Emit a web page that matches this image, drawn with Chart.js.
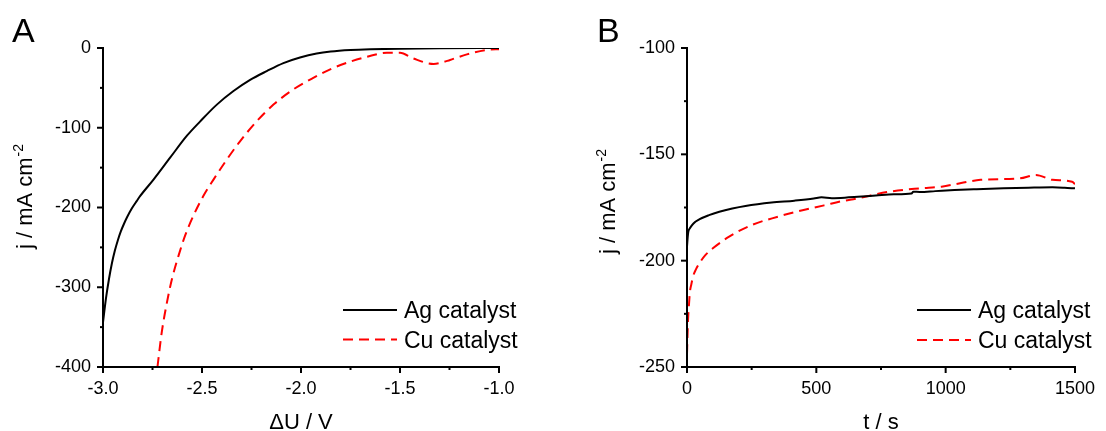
<!DOCTYPE html>
<html>
<head>
<meta charset="utf-8">
<script src="https://cdn.jsdelivr.net/npm/chart.js@4.4.1/dist/chart.umd.min.js"></script>
<style>
  html, body { margin: 0; padding: 0; background: #fff; }
  #wrap { position: relative; width: 1106px; height: 431px; }
  #wrap canvas { position: absolute; top: 0; }
</style>
</head>
<body>
<div id="wrap">
  <canvas id="chartA" width="553" height="431" style="left:0"></canvas>
  <canvas id="chartB" width="553" height="431" style="left:553px"></canvas>
</div>
<script>
// ---------------- data ----------------
var seriesNames = ["Ag catalyst", "Cu catalyst"];

// panel A : j vs dU
var agVoltA = [-3.0, -2.985, -2.97, -2.955, -2.94, -2.925, -2.91, -2.895, -2.878, -2.854, -2.83, -2.812, -2.745, -2.661, -2.576, -2.509, -2.425, -2.341, -2.257, -2.173, -2.089, -2.005, -1.921, -1.85, -1.75, -1.65, -1.5, -1.3, -1.0];
var agCurA  = [-344, -314, -290, -270, -254, -241, -230, -221, -212, -201, -192, -185.5, -165, -137.5, -110, -92, -71, -54, -40, -29, -19, -12, -7, -4.5, -2.6, -1.6, -0.8, -0.3, 0];
var cuVoltA = [-2.725, -2.703, -2.677, -2.652, -2.618, -2.585, -2.543, -2.492, -2.442, -2.375, -2.308, -2.224, -2.139, -2.039, -1.938, -1.837, -1.75, -1.667, -1.566, -1.5, -1.434, -1.33, -1.3, -1.247, -1.162, -1.05, -1.0];
var cuCurA  = [-400, -356, -319, -290, -260, -235, -210, -185, -165, -140, -117, -92, -71, -52, -37.5, -25, -17, -11, -6, -6, -13, -20, -19, -15, -8, -2, -1.5];

// panel B : j vs t
var agTimeB = [0, 2, 5, 11, 25, 49, 85, 125, 175, 226, 327, 415, 490, 520, 560, 610, 660, 730, 800, 868, 875, 900, 960, 1034, 1120, 1224, 1320, 1413, 1460, 1500];
var agCurB  = [-193.5, -190, -186.5, -184.8, -182.5, -180.5, -178.6, -177, -175.5, -174.3, -172.7, -171.8, -170.8, -170.2, -170.6, -170.4, -170.0, -169.4, -168.8, -168.4, -167.6, -167.7, -167.3, -166.8, -166.4, -166.0, -165.7, -165.5, -165.7, -166];
var cuTimeB = [0, 2, 4, 8, 11, 17, 23, 35, 49, 70, 100, 163, 251, 352, 422, 530, 600, 655, 781, 900, 984, 1060, 1135, 1287, 1349, 1413, 1489, 1500];
var cuCurB  = [-244, -235, -228, -220, -215, -211, -207.6, -204, -201, -197.5, -194.2, -188.7, -183.2, -179.3, -177, -174, -172, -170.8, -167.6, -166, -165.2, -163.5, -162, -161.3, -159.7, -162, -162.9, -164];

// ticks
var xTicksA = [-3.0, -2.5, -2.0, -1.5, -1.0];
var xMinorA = [-2.75, -2.25, -1.75, -1.25];
var yTicksA = [-400, -300, -200, -100, 0];
var yMinorA = [-350, -250, -150, -50];
var xTicksB = [0, 500, 1000, 1500];
var xMinorB = [250, 750, 1250];
var yTicksB = [-250, -200, -150, -100];
var yMinorB = [-225, -175, -125];

var FONT = '"Liberation Sans", Arial, sans-serif';

function toPoints(xs, ys) {
    return xs.map(function (x, i) { return { x: x, y: ys[i] }; });
}

// axes lines, major/minor ticks, titles, panel letter, inner legend
var decoPlugin = {
    id: 'deco',
    afterDraw: function (chart, args, o) {
        var ctx = chart.ctx, ca = chart.chartArea;
        var xs = chart.scales.x, ys = chart.scales.y;
        ctx.save();
        ctx.strokeStyle = '#000';
        ctx.lineWidth = 2;
        ctx.lineCap = 'square';
        ctx.beginPath();
        ctx.moveTo(ca.left, ca.top);
        ctx.lineTo(ca.left, ca.bottom);
        ctx.lineTo(ca.right, ca.bottom);
        ctx.stroke();
        ctx.lineCap = 'butt';
        function tick(v, len, isX) {
            ctx.beginPath();
            if (isX) {
                var px = xs.getPixelForValue(v);
                ctx.moveTo(px, ca.bottom);
                ctx.lineTo(px, ca.bottom + len);
            } else {
                var py = ys.getPixelForValue(v);
                ctx.moveTo(ca.left, py);
                ctx.lineTo(ca.left - len, py);
            }
            ctx.stroke();
        }
        o.xMajor.forEach(function (v) { tick(v, 6, true); });
        o.xMinor.forEach(function (v) { tick(v, 3, true); });
        o.yMajor.forEach(function (v) { tick(v, 6, false); });
        o.yMinor.forEach(function (v) { tick(v, 3, false); });

        ctx.fillStyle = '#000';
        // panel letter
        ctx.font = '34px ' + FONT;
        ctx.textAlign = 'left';
        ctx.textBaseline = 'alphabetic';
        ctx.fillText(o.letter, o.letterX, 42);

        // x title
        ctx.font = '22px ' + FONT;
        ctx.textAlign = 'center';
        ctx.fillText(o.xTitle, (ca.left + ca.right) / 2, 429);

        // y title with superscript
        ctx.save();
        ctx.translate(o.yTitleX, o.yTitleY);
        ctx.rotate(-Math.PI / 2);
        ctx.textAlign = 'left';
        ctx.font = '22px ' + FONT;
        var w1 = ctx.measureText('j / mA cm').width;
        ctx.font = '14px ' + FONT;
        var w2 = ctx.measureText('-2').width;
        var x0 = -(w1 + w2) / 2;
        ctx.font = '22px ' + FONT;
        ctx.fillText('j / mA cm', x0, 0);
        ctx.font = '14px ' + FONT;
        ctx.fillText('-2', x0 + w1 + 1, -9);
        ctx.restore();

        // legend inside plot
        ctx.font = '23px ' + FONT;
        ctx.textAlign = 'left';
        chart.data.datasets.forEach(function (ds, i) {
            var ly = o.legendY[i];
            ctx.strokeStyle = ds.borderColor;
            ctx.lineWidth = ds.borderWidth;
            ctx.setLineDash(ds.borderDash || []);
            ctx.beginPath();
            ctx.moveTo(o.legendX, ly);
            ctx.lineTo(o.legendX + 54, ly);
            ctx.stroke();
            ctx.setLineDash([]);
            ctx.fillText(ds.label, o.legendX + 61, ly + 8);
        });
        ctx.restore();
    }
};

function makeChart(id, datasets, sc, deco, area) {
    return new Chart(document.getElementById(id), {
        type: 'line',
        data: { datasets: datasets },
        plugins: [decoPlugin],
        options: {
            responsive: false,
            animation: false,
            events: [],
            layout: { padding: { left: 0, top: area.top, right: 553 - area.right, bottom: 0 } },
            elements: { point: { radius: 0 }, line: { cubicInterpolationMode: 'monotone' } },
            scales: {
                x: {
                    type: 'linear', min: sc.xMin, max: sc.xMax,
                    afterBuildTicks: function (s) { s.ticks = sc.xTicks.map(function (v) { return { value: v }; }); },
                    afterFit: function (s) { s.height = 431 - area.bottom; },
                    grid: { display: false, drawTicks: false },
                    border: { display: false },
                    ticks: { color: '#000', padding: 11, maxRotation: 0, autoSkip: false, font: { family: FONT, size: 18 }, callback: sc.xFmt }
                },
                y: {
                    type: 'linear', min: sc.yMin, max: sc.yMax,
                    afterBuildTicks: function (s) { s.ticks = sc.yTicks.map(function (v) { return { value: v }; }); },
                    afterFit: function (s) { s.width = area.left; },
                    grid: { display: false, drawTicks: false },
                    border: { display: false },
                    ticks: { color: '#000', padding: 12, autoSkip: false, font: { family: FONT, size: 18 }, callback: function (v) { return String(v); } }
                }
            },
            plugins: { legend: { display: false }, tooltip: { enabled: false }, deco: deco }
        }
    });
}

function lineSets(agPts, cuPts) {
    return [
        { label: seriesNames[0], data: agPts, borderColor: '#000000', borderWidth: 2, fill: false },
        { label: seriesNames[1], data: cuPts, borderColor: '#ff0000', borderWidth: 2, borderDash: [10, 6], fill: false }
    ];
}

makeChart('chartA',
    lineSets(toPoints(agVoltA, agCurA), toPoints(cuVoltA, cuCurA)),
    { xMin: -3, xMax: -1, yMin: -400, yMax: 0, xTicks: xTicksA, yTicks: yTicksA,
      xFmt: function (v) { return v.toFixed(1); } },
    { xMajor: xTicksA, xMinor: xMinorA, yMajor: yTicksA, yMinor: yMinorA,
      letter: 'A', letterX: 12, xTitle: '\u0394U / V', yTitleX: 32, yTitleY: 197,
      legendX: 343, legendY: [310, 339.5] },
    { left: 103, right: 499, top: 48, bottom: 367 });

makeChart('chartB',
    lineSets(toPoints(agTimeB, agCurB), toPoints(cuTimeB, cuCurB)),
    { xMin: 0, xMax: 1500, yMin: -250, yMax: -100, xTicks: xTicksB, yTicks: yTicksB,
      xFmt: function (v) { return String(v); } },
    { xMajor: xTicksB, xMinor: xMinorB, yMajor: yTicksB, yMinor: yMinorB,
      letter: 'B', letterX: 44, xTitle: 't / s', yTitleX: 62, yTitleY: 202,
      legendX: 917 - 553, legendY: [310, 340] },
    { left: 134, right: 530, top: 48, bottom: 367 });
</script>
</body>
</html>
